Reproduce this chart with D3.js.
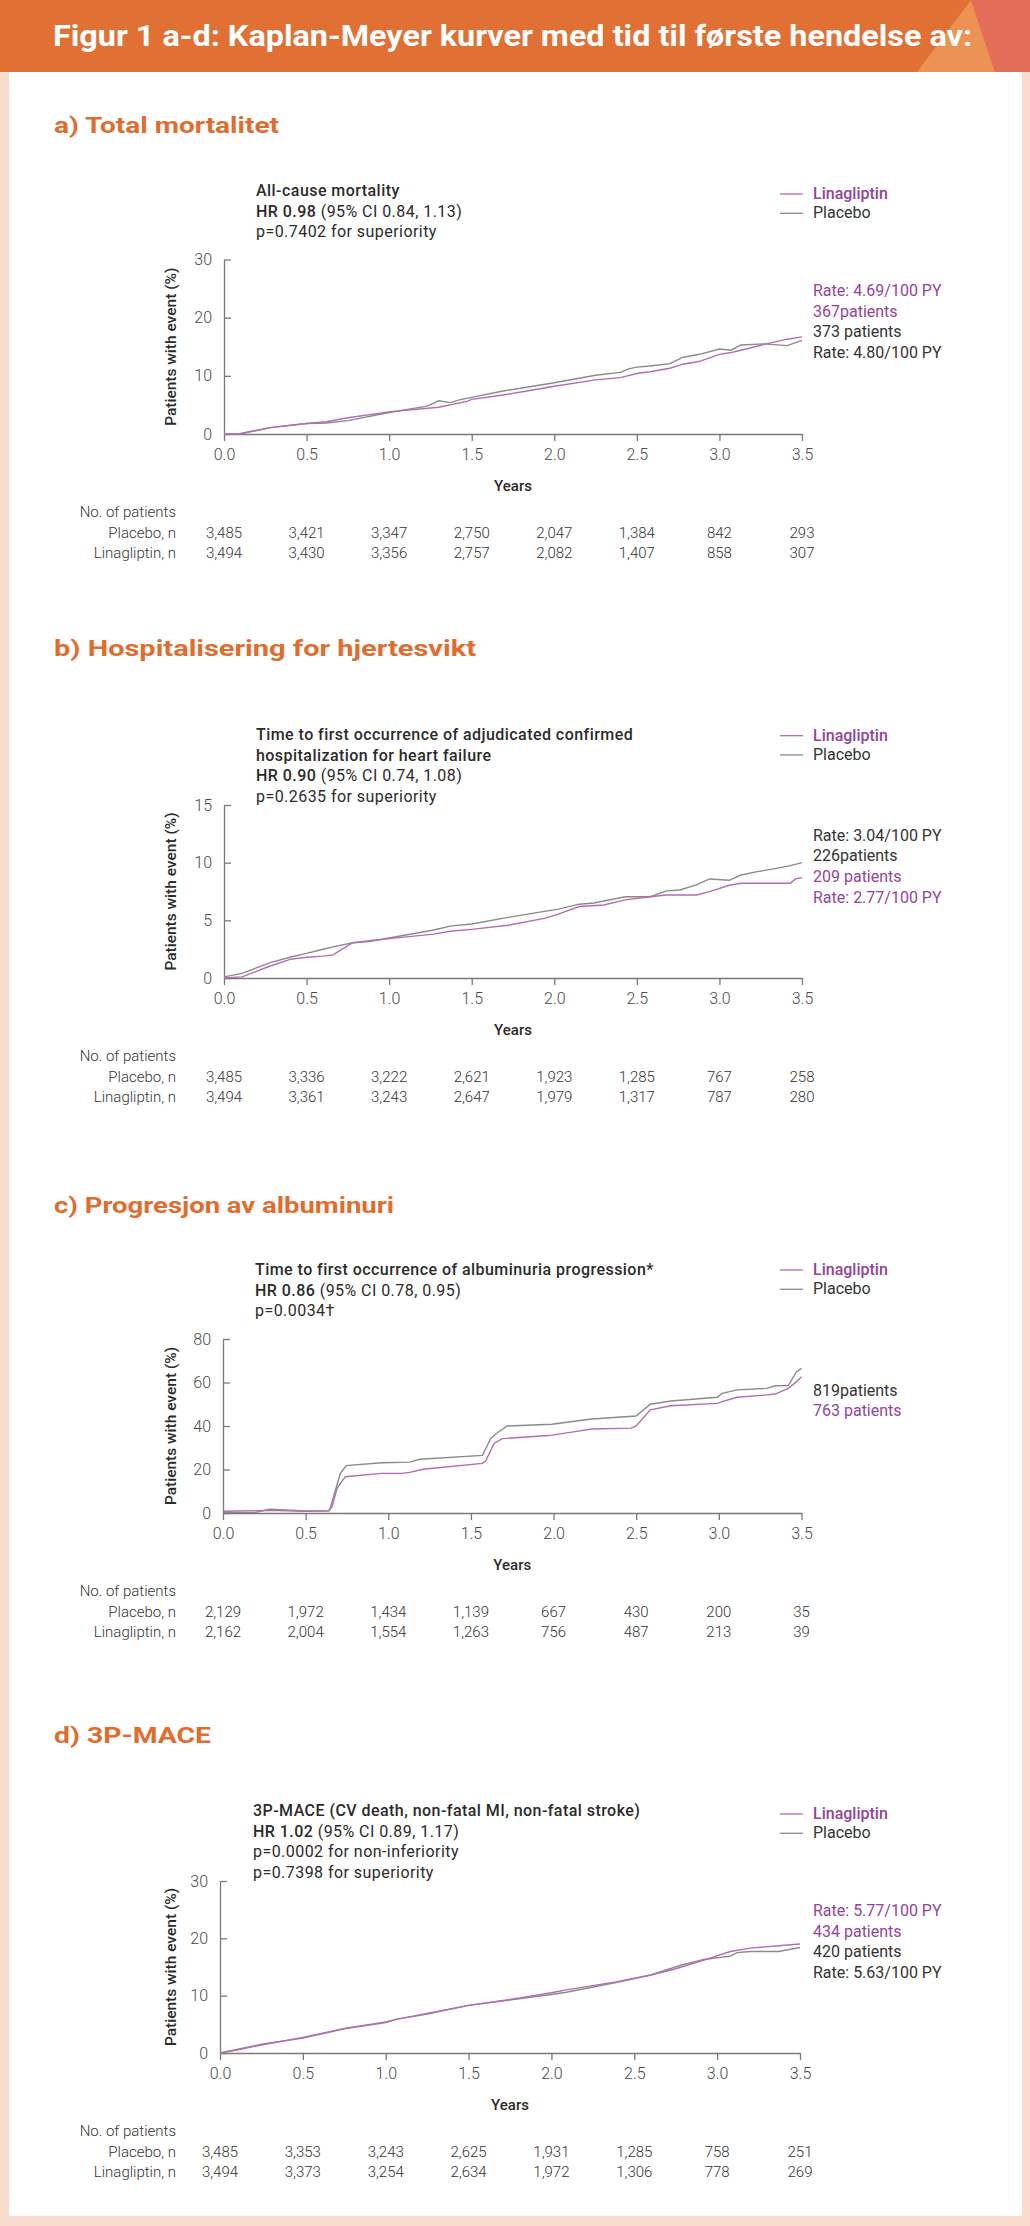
<!DOCTYPE html>
<html>
<head>
<meta charset="utf-8">
<script src="https://cdn.jsdelivr.net/npm/d3@7"></script>
<style>
  body { margin: 0; background: #f9dccd; }
  svg { display: block; font-family: Roboto, "Noto Sans", sans-serif; }
</style>
</head>
<body>
<div id="figure"></div>
<script>
// ---- shared axis values ----
const years = [0, 0.5, 1, 1.5, 2, 2.5, 3, 3.5];
const seriesNames = ["Linagliptin", "Placebo"];

// ---- a) all-cause mortality ----
const mortalityLina = [[0,0],[0.09,0],[0.28,1.1],[0.5,1.8],[0.62,2.1],[0.75,2.8],[1.0,3.8],[1.3,4.6],[1.47,5.6],[1.5,5.95],[1.69,6.7],[2.0,8.2],[2.25,9.3],[2.4,9.7],[2.5,10.4],[2.58,10.7],[2.7,11.3],[2.78,12.0],[2.88,12.5],[3.0,13.7],[3.07,14.0],[3.13,14.4],[3.27,15.4],[3.41,16.3],[3.5,16.7]];
const mortalityPlacebo = [[0,0],[0.09,0],[0.28,1.1],[0.5,1.8],[0.62,1.9],[0.75,2.3],[1.0,3.7],[1.23,4.8],[1.3,5.7],[1.37,5.4],[1.43,5.9],[1.5,6.3],[1.69,7.4],[2.0,8.8],[2.25,10.1],[2.4,10.6],[2.45,11.2],[2.5,11.5],[2.58,11.7],[2.7,12.1],[2.78,13.2],[2.88,13.7],[3.0,14.6],[3.07,14.4],[3.13,15.3],[3.27,15.5],[3.41,15.2],[3.5,16.1]];
const mortalityYTicks = [0, 10, 20, 30];
const mortalityRiskPlacebo = ["3,485","3,421","3,347","2,750","2,047","1,384","842","293"];
const mortalityRiskLina = ["3,494","3,430","3,356","2,757","2,082","1,407","858","307"];

// ---- b) hospitalisation for heart failure ----
const hfPlacebo = [[0,0.1],[0.11,0.4],[0.28,1.33],[0.4,1.8],[0.5,2.14],[0.6,2.49],[0.66,2.7],[0.78,3.06],[0.88,3.15],[1.0,3.47],[1.27,4.16],[1.37,4.5],[1.5,4.68],[1.72,5.26],[1.94,5.78],[2.02,5.95],[2.15,6.4],[2.24,6.5],[2.3,6.68],[2.43,7.05],[2.58,7.05],[2.68,7.55],[2.76,7.63],[2.86,8.07],[2.94,8.59],[3.06,8.47],[3.13,8.93],[3.23,9.22],[3.37,9.57],[3.43,9.74],[3.5,10.0]];
const hfLina = [[0,0],[0.11,0.1],[0.28,1.04],[0.4,1.62],[0.5,1.8],[0.6,1.9],[0.66,2.0],[0.78,3.06],[0.88,3.23],[1.0,3.41],[1.27,3.8],[1.37,4.05],[1.5,4.22],[1.72,4.57],[1.94,5.17],[2.02,5.52],[2.15,6.2],[2.3,6.33],[2.43,6.77],[2.58,7.05],[2.68,7.2],[2.86,7.2],[2.94,7.49],[3.06,8.04],[3.13,8.21],[3.43,8.21],[3.46,8.59],[3.5,8.7]];
const hfYTicks = [0, 5, 10, 15];
const hfRiskPlacebo = ["3,485","3,336","3,222","2,621","1,923","1,285","767","258"];
const hfRiskLina = ["3,494","3,361","3,243","2,647","1,979","1,317","787","280"];

// ---- c) albuminuria progression ----
const albPlacebo = [[0,0.3],[0.2,0.3],[0.28,1.7],[0.5,0.9],[0.64,1.0],[0.65,2.5],[0.71,18.2],[0.745,21.8],[0.96,23.1],[1.13,23.4],[1.19,24.7],[1.57,26.5],[1.62,34.3],[1.66,36.9],[1.72,40.0],[1.99,40.8],[2.15,42.4],[2.23,43.2],[2.5,44.6],[2.585,50.0],[2.71,51.5],[2.99,53.2],[3.02,55.0],[3.11,56.6],[3.29,57.3],[3.34,58.5],[3.42,58.6],[3.47,65.0],[3.5,66.5]];
const albLina = [[0,0.8],[0.28,1.2],[0.5,0.8],[0.64,1.0],[0.66,2.9],[0.69,11.3],[0.74,16.7],[0.96,18.2],[1.08,18.2],[1.13,18.7],[1.21,20.1],[1.57,22.8],[1.59,24.0],[1.64,32.0],[1.69,34.2],[1.97,35.6],[2.13,37.4],[2.23,38.6],[2.47,39.0],[2.5,40.0],[2.585,47.4],[2.71,49.3],[2.99,50.4],[3.02,51.2],[3.11,53.2],[3.29,54.3],[3.34,54.7],[3.42,57.3],[3.47,60.4],[3.5,62.7]];
const albYTicks = [0, 20, 40, 60, 80];
const albRiskPlacebo = ["2,129","1,972","1,434","1,139","667","430","200","35"];
const albRiskLina = ["2,162","2,004","1,554","1,263","756","487","213","39"];

// ---- d) 3P-MACE ----
const maceLina = [[0,0],[0.1,0.5],[0.25,1.4],[0.5,2.7],[0.75,4.3],[1.0,5.4],[1.07,5.9],[1.25,6.9],[1.5,8.3],[1.79,9.5],[2.0,10.5],[2.09,11.0],[2.39,12.4],[2.6,13.6],[2.74,14.6],[2.92,16.2],[3.08,17.7],[3.2,18.3],[3.37,18.7],[3.5,19.0]];
const macePlacebo = [[0,0],[0.1,0.6],[0.26,1.6],[0.5,2.6],[0.75,4.2],[1.0,5.3],[1.07,5.9],[1.25,6.8],[1.5,8.3],[1.79,9.4],[2.0,10.2],[2.09,10.6],[2.39,12.3],[2.6,13.6],[2.78,15.3],[2.92,16.3],[3.08,16.9],[3.12,17.5],[3.2,17.7],[3.37,17.7],[3.5,18.4]];
const maceYTicks = [0, 10, 20, 30];
const maceRiskPlacebo = ["3,485","3,353","3,243","2,625","1,931","1,285","758","251"];
const maceRiskLina = ["3,494","3,373","3,254","2,634","1,972","1,306","778","269"];

// colours
const linaLine = "#b46bb4", linaText = "#93449a";
const placeboLine = "#8a8a8a", placeboText = "#333333";
const orange = "#e06c2e";

const W = 1030, H = 2226;
const svg = d3.select("#figure").append("svg")
    .attr("width", W).attr("height", H);

// page frame
svg.append("rect").attr("width", W).attr("height", H).attr("fill", "#f9dccd");
svg.append("rect").attr("x", 9).attr("y", 72).attr("width", 1013).attr("height", 2144).attr("fill", "#fff");

// header band
svg.append("rect").attr("width", W).attr("height", 72).attr("fill", "#e07034");
svg.append("polygon").attr("points", "917,72 971,0 995,72").attr("fill", "#eb9254");
svg.append("polygon").attr("points", "971,0 1030,0 1030,72 995,72").attr("fill", "#e26d59");
svg.append("text")
    .attr("x", 53).attr("y", 46)
    .attr("textLength", 919).attr("lengthAdjust", "spacingAndGlyphs")
    .attr("fill", "#fff").attr("font-size", 30).attr("font-weight", 700)
    .text("Figur 1 a-d: Kaplan-Meyer kurver med tid til første hendelse av:");

const panels = [
  {
    heading: "a) Total mortalitet", headingY: 133, headingW: 225,
    notes: [[["All-cause mortality", 1]], [["HR 0.98", 1], [" (95% CI 0.84, 1.13)", 0]], [["p=0.7402 for superiority", 0]]],
    notesX: 256, notesY: 196,
    legendY: 194,
    top: 259.5, bottom: 434, left: 224, right: 802,
    yMax: 30, yTicks: mortalityYTicks,
    lina: mortalityLina, placebo: mortalityPlacebo,
    riskPlacebo: mortalityRiskPlacebo, riskLina: mortalityRiskLina,
    endLabels: [["Rate: 4.69/100 PY", "L"], ["367patients", "L"], ["373 patients", "P"], ["Rate: 4.80/100 PY", "P"]],
    endY: 296
  },
  {
    heading: "b) Hospitalisering for hjertesvikt", headingY: 656, headingW: 422,
    notes: [[["Time to first occurrence of adjudicated confirmed", 1]], [["hospitalization for heart failure", 1]], [["HR 0.90", 1], [" (95% CI 0.74, 1.08)", 0]], [["p=0.2635 for superiority", 0]]],
    notesX: 256, notesY: 740,
    legendY: 735.7,
    top: 805, bottom: 978, left: 224, right: 802,
    yMax: 15, yTicks: hfYTicks,
    lina: hfLina, placebo: hfPlacebo,
    riskPlacebo: hfRiskPlacebo, riskLina: hfRiskLina,
    endLabels: [["Rate: 3.04/100 PY", "P"], ["226patients", "P"], ["209 patients", "L"], ["Rate: 2.77/100 PY", "L"]],
    endY: 840.7
  },
  {
    heading: "c) Progresjon av albuminuri", headingY: 1213, headingW: 340,
    notes: [[["Time to first occurrence of albuminuria progression*", 1]], [["HR 0.86", 1], [" (95% CI 0.78, 0.95)", 0]], [["p=0.0034\u2020", 0]]],
    notesX: 255, notesY: 1275,
    legendY: 1270,
    top: 1339, bottom: 1513, left: 223, right: 801.5,
    yMax: 80, yTicks: albYTicks,
    lina: albLina, placebo: albPlacebo,
    riskPlacebo: albRiskPlacebo, riskLina: albRiskLina,
    endLabels: [["819patients", "P"], ["763 patients", "L"]],
    endY: 1395.7
  },
  {
    heading: "d) 3P-MACE", headingY: 1743, headingW: 157,
    notes: [[["3P-MACE (CV death, non-fatal MI, non-fatal stroke)", 1]], [["HR 1.02", 1], [" (95% CI 0.89, 1.17)", 0]], [["p=0.0002 for non-inferiority", 0]], [["p=0.7398 for superiority", 0]]],
    notesX: 253, notesY: 1816,
    legendY: 1814,
    top: 1881, bottom: 2053, left: 220, right: 800,
    yMax: 30, yTicks: maceYTicks,
    lina: maceLina, placebo: macePlacebo,
    riskPlacebo: maceRiskPlacebo, riskLina: maceRiskLina,
    endLabels: [["Rate: 5.77/100 PY", "L"], ["434 patients", "L"], ["420 patients", "P"], ["Rate: 5.63/100 PY", "P"]],
    endY: 1916
  }
];

panels.forEach(drawPanel);

function drawPanel(p) {
  const g = svg.append("g");

  // section heading
  g.append("text")
      .attr("x", 54).attr("y", p.headingY)
      .attr("textLength", p.headingW).attr("lengthAdjust", "spacingAndGlyphs")
      .attr("fill", orange).attr("font-size", 22).attr("font-weight", 700)
      .text(p.heading);

  // scales
  const x = d3.scaleLinear().domain([0, 3.5]).range([p.left, p.right]);
  const y = d3.scaleLinear().domain([0, p.yMax]).range([p.bottom, p.top]);

  // study notes
  p.notes.forEach((line, i) => {
    const t = g.append("text")
        .attr("x", p.notesX).attr("y", p.notesY + i * 20.7)
        .attr("font-size", 16).attr("letter-spacing", 0.45).attr("fill", "#2b2b2b");
    line.forEach(([s, bold]) => t.append("tspan")
        .attr("font-weight", bold ? 500 : 400)
        .attr("xml:space", "preserve")
        .text(s));
  });

  // legend
  seriesNames.forEach((name, i) => {
    const ly = p.legendY + i * 19.3;
    g.append("line")
        .attr("x1", 780).attr("x2", 803).attr("y1", ly).attr("y2", ly)
        .attr("stroke", i === 0 ? linaLine : placeboLine).attr("stroke-width", 1.3);
    g.append("text")
        .attr("x", 813).attr("y", ly + 5)
        .attr("font-size", 16).attr("font-weight", i === 0 ? 500 : 400)
        .attr("fill", i === 0 ? linaText : placeboText)
        .text(name);
  });

  // axes
  const yAxis = g.append("g")
      .attr("transform", `translate(${p.left},0)`)
      .call(d3.axisLeft(y).tickValues(p.yTicks).tickSizeInner(-7).tickSizeOuter(0).tickPadding(12));
  const xAxis = g.append("g")
      .attr("transform", `translate(0,${p.bottom})`)
      .call(d3.axisBottom(x).tickValues(years).tickFormat(d3.format(".1f")).tickSize(7).tickSizeOuter(0).tickPadding(8));
  [yAxis, xAxis].forEach(a => {
    a.selectAll("path, line").attr("stroke", "#7a7a7a").attr("stroke-width", 1.3);
    a.selectAll("text").attr("font-family", "Roboto").attr("font-weight", 300)
        .attr("font-size", 16).attr("fill", "#4a4a4a");
  });

  // y axis title
  g.append("text")
      .attr("transform", `translate(176,${(p.top + p.bottom) / 2}) rotate(-90)`)
      .attr("text-anchor", "middle")
      .attr("font-size", 15.5).attr("font-weight", 500).attr("fill", "#2b2b2b")
      .text("Patients with event (%)");

  // curves
  const line = d3.line().x(d => x(d[0])).y(d => y(d[1]));
  g.append("path").datum(p.placebo)
      .attr("d", line).attr("fill", "none")
      .attr("stroke", placeboLine).attr("stroke-width", 1.4);
  g.append("path").datum(p.lina)
      .attr("d", line).attr("fill", "none")
      .attr("stroke", linaLine).attr("stroke-width", 1.4);

  // end-of-curve labels
  p.endLabels.forEach(([s, who], i) => {
    g.append("text")
        .attr("x", 813).attr("y", p.endY + i * 20.6)
        .attr("font-size", 16)
        .attr("fill", who === "L" ? linaText : placeboText)
        .text(s);
  });

  // x axis title
  g.append("text")
      .attr("x", x(1.75)).attr("y", p.bottom + 57)
      .attr("text-anchor", "middle")
      .attr("font-size", 15).attr("font-weight", 500).attr("fill", "#2b2b2b")
      .text("Years");

  // number-at-risk table
  const rows = [["No. of patients", null], ["Placebo, n", p.riskPlacebo], ["Linagliptin, n", p.riskLina]];
  rows.forEach(([label, vals], i) => {
    const ry = p.bottom + 83 + i * 20.5;
    g.append("text")
        .attr("x", 176).attr("y", ry)
        .attr("text-anchor", "end")
        .attr("font-size", 15).attr("font-weight", 300).attr("fill", "#333")
        .text(label);
    if (vals) {
      g.append("g").selectAll("text")
        .data(vals)
        .join("text")
          .attr("x", (d, j) => x(years[j]))
          .attr("y", ry)
          .attr("text-anchor", "middle")
          .attr("font-size", 15).attr("font-weight", 300).attr("fill", "#333")
          .text(d => d);
    }
  });
}
</script>
</body>
</html>
